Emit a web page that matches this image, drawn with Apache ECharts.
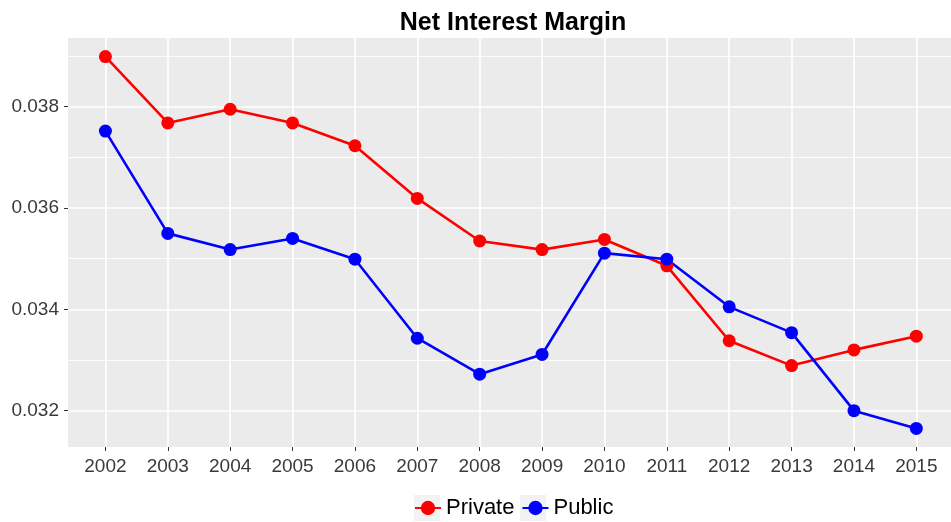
<!DOCTYPE html>
<html>
<head>
<meta charset="utf-8">
<script src="https://cdn.jsdelivr.net/npm/echarts@6/dist/echarts.min.js"></script>
<style>
  html, body { margin: 0; padding: 0; background: #fff; }
  #chart { width: 951px; height: 522px; }
</style>
</head>
<body>
<div id="chart"></div>
<script>
const years = [2002, 2003, 2004, 2005, 2006, 2007, 2008, 2009, 2010, 2011, 2012, 2013, 2014, 2015];
const privateNim = [0.03899, 0.03768, 0.03795, 0.03768, 0.03723, 0.03619, 0.03535, 0.03518, 0.03538, 0.03486, 0.03338, 0.03289, 0.03320, 0.03347];
const publicNim = [0.03752, 0.03550, 0.03518, 0.03540, 0.03499, 0.03343, 0.03272, 0.03311, 0.03511, 0.03499, 0.03405, 0.03354, 0.03200, 0.03165];
const yMajor = [0.032, 0.034, 0.036, 0.038];
const yMinor = [0.033, 0.035, 0.037, 0.039];

const chart = echarts.init(document.getElementById('chart'));
const font = 'Liberation Sans, Arial, sans-serif';
const pair = (vals) => years.map((y, i) => [y, vals[i]]);

const gridLine = (vals, w) => ({
  show: true,
  customValues: vals,
  lineStyle: { color: '#ffffff', width: w }
});

// grey key boxes behind the legend symbols (ggplot style)
const keyBox = (x) => ({
  type: 'rect', left: x, top: 495, z: 1,
  shape: { width: 26, height: 26 },
  style: { fill: '#F2F2F2' }
});

const option = {
  animation: false,
  title: {
    text: 'Net Interest Margin',
    left: 508,
    textAlign: 'center',
    top: 6,
    textStyle: { fontFamily: font, fontSize: 25, fontWeight: 'bold', color: '#000' }
  },
  graphic: [keyBox(414), keyBox(520)],
  legend: {
    top: 497,
    left: 414,
    padding: 0,
    itemWidth: 26,
    itemHeight: 18,
    itemGap: 7,
    z: 5,
    textStyle: { fontFamily: font, fontSize: 22, lineHeight: 22, color: '#000' },
    data: ['Private', 'Public']
  },
  grid: {
    left: 68, right: 0, top: 38, bottom: 75,
    show: true, backgroundColor: '#EBEBEB', borderWidth: 0
  },
  xAxis: {
    type: 'value',
    min: 2001.4,
    max: 2015.556,
    axisLine: { show: false },
    axisTick: { show: true, customValues: years, length: 4, lineStyle: { color: '#333', width: 1 } },
    axisLabel: { customValues: years, fontFamily: font, fontSize: 19, color: '#3a3a3a', margin: 10, formatter: v => String(v) },
    splitLine: gridLine(years, 1.7)
  },
  yAxis: [{
    type: 'value',
    min: 0.031283,
    max: 0.039357,
    axisLine: { show: false },
    axisTick: { show: true, customValues: yMajor, length: 4, lineStyle: { color: '#333', width: 1 } },
    axisLabel: { customValues: yMajor, fontFamily: font, fontSize: 19, color: '#3a3a3a', margin: 9, formatter: v => v.toFixed(3) },
    splitLine: gridLine(yMajor, 1.7)
  }, {
    type: 'value',
    min: 0.031283,
    max: 0.039357,
    position: 'left',
    axisLine: { show: false },
    axisTick: { show: false, customValues: yMinor },
    axisLabel: { show: false, customValues: yMinor },
    splitLine: gridLine(yMinor, 0.9)
  }],
  series: [
    {
      name: 'Private', type: 'line', data: pair(privateNim),
      color: '#FF0000', symbol: 'circle', symbolSize: 13,
      lineStyle: { width: 2.6 }, z: 3
    },
    {
      name: 'Public', type: 'line', data: pair(publicNim),
      color: '#0000FF', symbol: 'circle', symbolSize: 13,
      lineStyle: { width: 2.6 }, z: 3
    }
  ]
};

chart.setOption(option);
</script>
</body>
</html>
